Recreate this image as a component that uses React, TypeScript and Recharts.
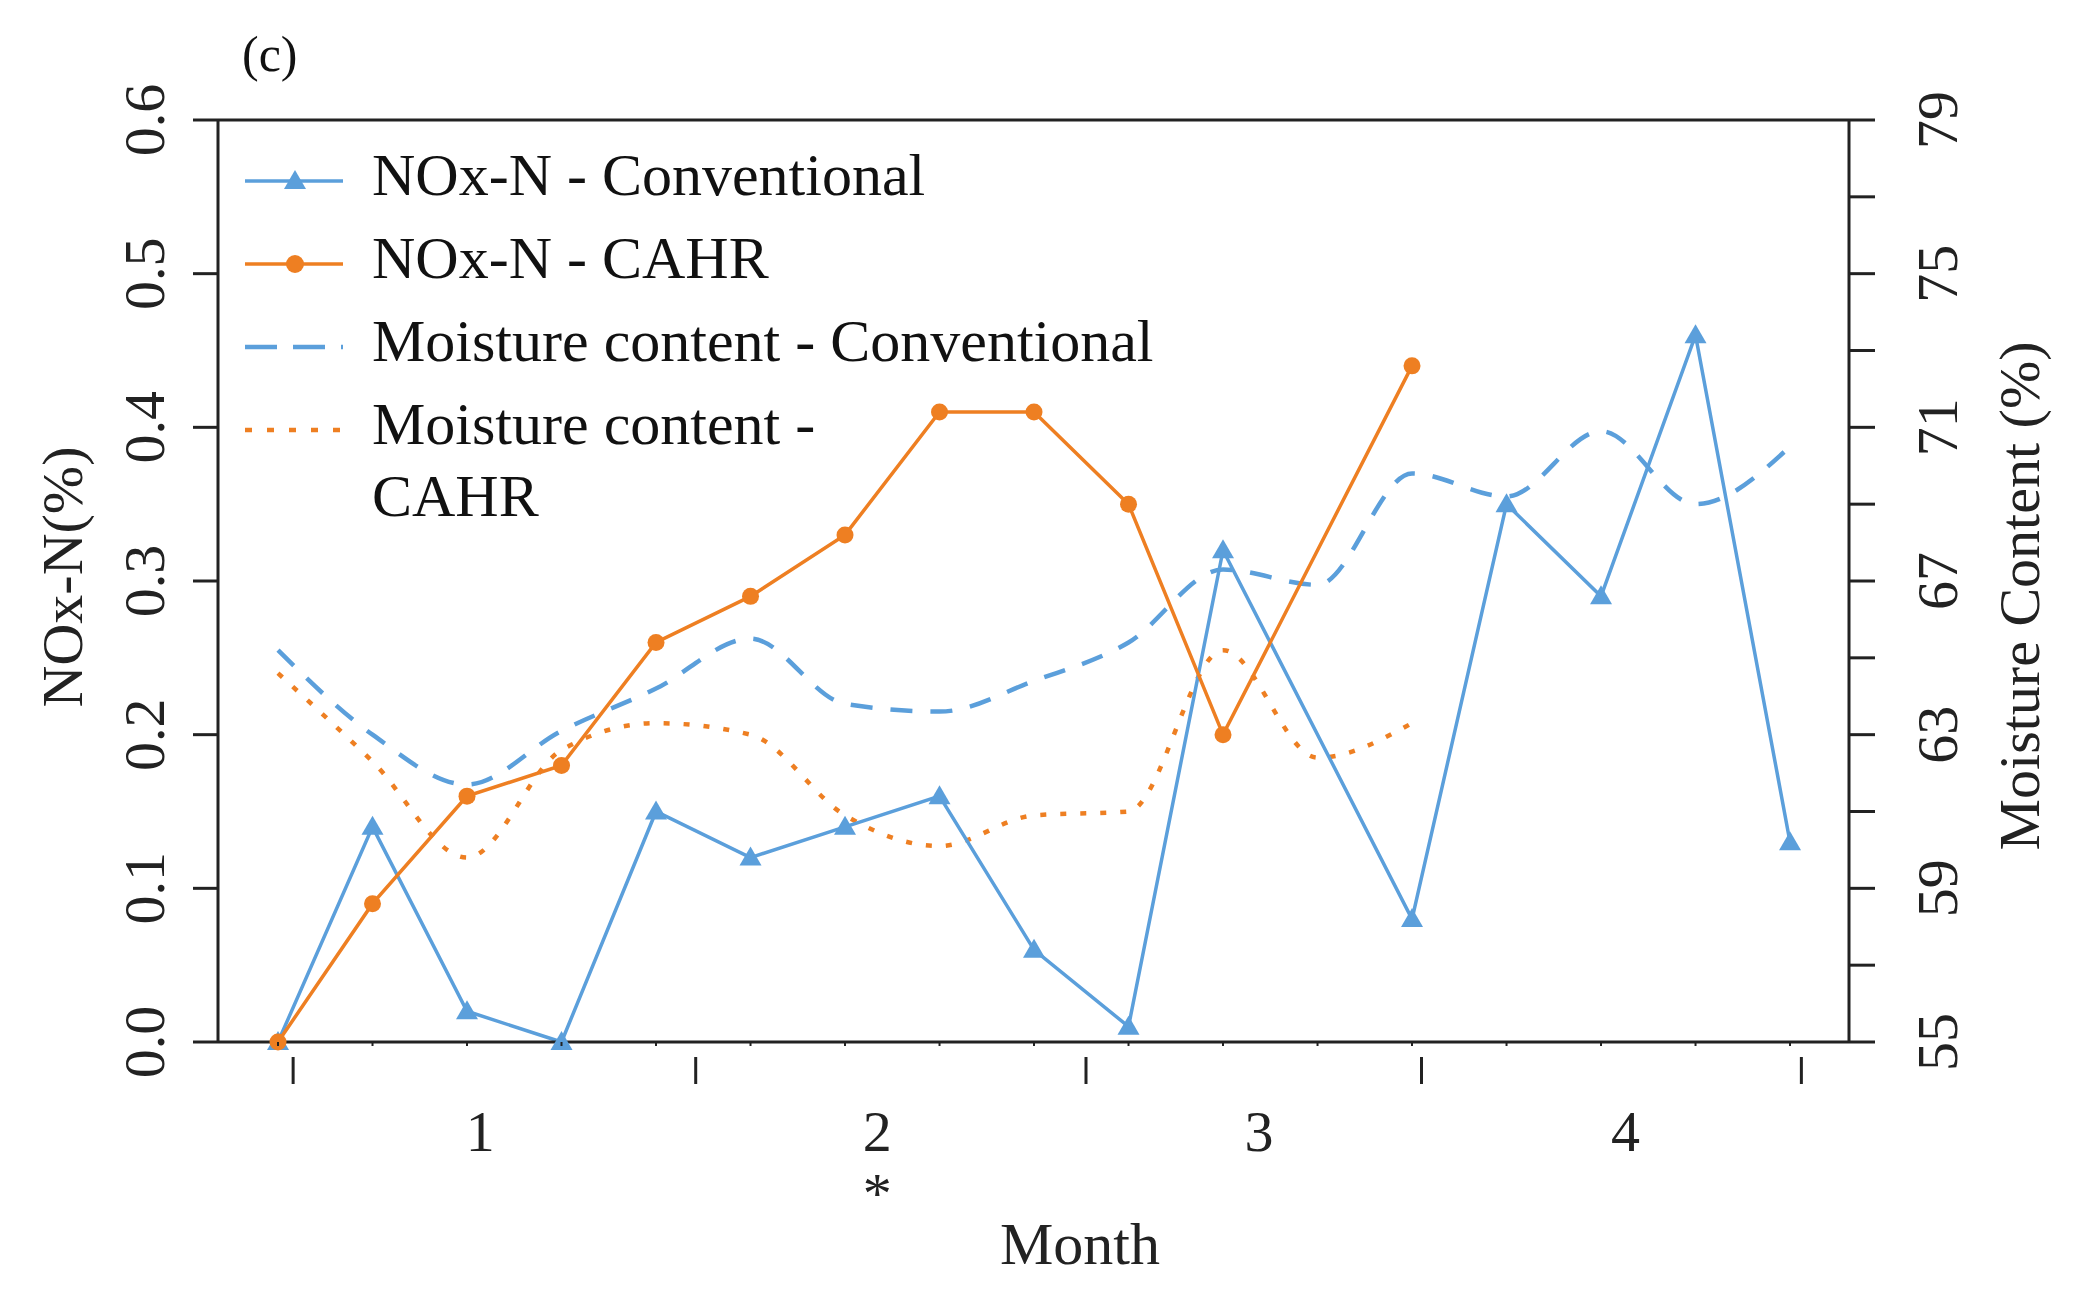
import React from 'react';
import { LineChart, Line, XAxis, YAxis, Legend, ReferenceLine } from 'recharts';

// sampling points along the composting period (index), 4 months
const samplePoints = [0, 1, 2, 3, 4, 5, 6, 7, 8, 9, 10, 11, 12, 13, 14, 15, 16];

const noxConventional = [0.0, 0.14, 0.02, 0.0, 0.15, 0.12, 0.14, 0.16, 0.06, 0.01, 0.32, null, 0.08, 0.35, 0.29, 0.46, 0.13];
const noxCahr = [0.0, 0.09, 0.16, 0.18, 0.26, 0.29, 0.33, 0.41, 0.41, 0.35, 0.2, null, 0.44];
const moistureConventional = [65.2, 63.0, 61.7, 63.1, 64.2, 65.5, 63.8, 63.6, 64.4, 65.4, 67.3, 66.9, 69.8, 69.2, 70.9, 69.0, 70.5];
const moistureCahr = [64.6, 62.3, 59.8, 62.6, 63.3, 63.0, 60.9, 60.1, 60.9, 61.0, 65.2, 62.4, 63.3];

const noxTicks = [0, 0.1, 0.2, 0.3, 0.4, 0.5, 0.6];
const moistureTicks = [55, 57, 59, 61, 63, 65, 67, 69, 71, 73, 75, 77, 79];
const moistureLabelStep = 4;

const monthLabels = ['1', '2', '3', '4'];
const monthNotes = ['', '*', '', ''];
const monthCenters = [2.14, 6.34, 10.38, 14.26];
const monthBoundaries = [0.16, 4.42, 8.55, 12.1, 16.12];
const xDomain = [-0.635, 16.624];

const BLUE = '#5b9fdb';
const ORANGE = '#ee7f22';
const INK = '#222';
const FONT = '"Liberation Serif", "DejaVu Serif", serif';

const data = samplePoints.map((idx, i) => ({
  idx,
  noxConv: noxConventional[i] ?? null,
  noxCahr: noxCahr[i] ?? null,
  moistConv: moistureConventional[i] ?? null,
  moistCahr: moistureCahr[i] ?? null,
}));

const xTicks = [...samplePoints, ...monthBoundaries, ...monthCenters];

const legendRows = [
  { lines: ['NOx-N - Conventional'], color: BLUE, dash: undefined, marker: 'triangle' },
  { lines: ['NOx-N - CAHR'], color: ORANGE, dash: undefined, marker: 'circle' },
  { lines: ['Moisture content - Conventional'], color: BLUE, dash: '32 16', marker: null },
  { lines: ['Moisture content -', 'CAHR'], color: ORANGE, dash: '7 15', marker: null },
];

function Triangle(props: any) {
  const { cx, cy, index, fill } = props;
  if (cx == null || cy == null) return <g key={`t-${index}`} />;
  return (
    <path
      key={`t-${index}`}
      d={`M${cx},${cy - 11} L${cx + 11},${cy + 8} L${cx - 11},${cy + 8} Z`}
      fill={fill}
    />
  );
}

function Dot(props: any) {
  const { cx, cy, index, fill } = props;
  if (cx == null || cy == null) return <g key={`c-${index}`} />;
  return <circle key={`c-${index}`} cx={cx} cy={cy} r={8.5} fill={fill} />;
}

function NoxTick({ x, y, payload }: any) {
  const bx = x - 29;
  return (
    <text x={bx} y={y} transform={`rotate(-90, ${bx}, ${y})`} textAnchor="middle"
      fontFamily={FONT} fontSize={58} fill={INK}>
      {Number(payload.value).toFixed(1)}
    </text>
  );
}

function MoistureTick({ x, y, payload }: any) {
  const v = payload.value;
  if ((v - moistureTicks[0]) % moistureLabelStep !== 0) return <g />;
  const bx = x + 82;
  return (
    <text x={bx} y={y} transform={`rotate(-90, ${bx}, ${y})`} textAnchor="middle"
      fontFamily={FONT} fontSize={58} fill={INK}>
      {v}
    </text>
  );
}

function MonthTick({ x, y, payload }: any) {
  const v = payload.value;
  const m = monthCenters.indexOf(v);
  if (m >= 0) {
    return (
      <g>
        <text x={x} y={y + 109} textAnchor="middle" fontFamily={FONT} fontSize={58} fill={INK}>
          {monthLabels[m]}
        </text>
        {monthNotes[m] && (
          <text x={x} y={y + 171} textAnchor="middle" fontFamily={FONT} fontSize={58} fill={INK}>
            {monthNotes[m]}
          </text>
        )}
      </g>
    );
  }
  if (monthBoundaries.includes(v)) {
    return <line x1={x} x2={x} y1={y + 15} y2={y + 42} stroke={INK} strokeWidth={3} />;
  }
  return <line x1={x} x2={x} y1={y} y2={y + 4} stroke={INK} strokeWidth={2} />;
}

function LegendBox() {
  return (
    <div style={{ position: 'relative', fontFamily: FONT, fontSize: 60, color: '#111' }}>
      {legendRows.map((row, i) => {
        const top = 139 + i * 83;
        return (
          <div key={i}>
            <svg width={100} height={40} style={{ position: 'absolute', left: 245, top: top + 22 }}>
              <line x1={0} x2={98} y1={20} y2={20} stroke={row.color}
                strokeWidth={row.dash ? 4.5 : 3.5} strokeDasharray={row.dash} />
              {row.marker === 'triangle' && <path d="M50,9 L61,28 L39,28 Z" fill={row.color} />}
              {row.marker === 'circle' && <circle cx={50} cy={20} r={9} fill={row.color} />}
            </svg>
            <div style={{ position: 'absolute', left: 372, top, lineHeight: '72px', whiteSpace: 'nowrap' }}>
              {row.lines.map((t) => <div key={t}>{t}</div>)}
            </div>
          </div>
        );
      })}
    </div>
  );
}

export default function App() {
  return (
    <div style={{ position: 'relative', width: 2100, height: 1299, background: '#fff' }}>
      <style>{'body{margin:0;background:#fff}'}</style>
      <div style={{ position: 'absolute', left: 242, top: 24, fontFamily: FONT, fontSize: 50, lineHeight: '60px', color: '#111' }}>
        (c)
      </div>
      <LineChart width={2100} height={1299} data={data} margin={{ top: 120, right: 0, bottom: 0, left: 0 }}>
        <XAxis
          dataKey="idx"
          type="number"
          domain={xDomain}
          allowDataOverflow
          ticks={xTicks}
          interval={0}
          height={257}
          tickLine={false}
          tickSize={0}
          tickMargin={0}
          axisLine={{ stroke: INK, strokeWidth: 3 }}
          tick={<MonthTick />}
          label={{
            content: () => (
              <text x={1080} y={1264} textAnchor="middle" fontFamily={FONT} fontSize={60} fill={INK}>
                Month
              </text>
            ),
          }}
        />
        <YAxis
          yAxisId="nox"
          domain={[0, 0.6]}
          ticks={noxTicks}
          interval={0}
          width={218}
          tickSize={25}
          tickMargin={0}
          tickLine={{ stroke: INK, strokeWidth: 3 }}
          axisLine={{ stroke: INK, strokeWidth: 3 }}
          tick={<NoxTick />}
          label={{
            content: ({ viewBox }: any) => {
              const bx = 82;
              const cy = viewBox.y + viewBox.height / 2 - 4;
              return (
                <text x={bx} y={cy} transform={`rotate(-90, ${bx}, ${cy})`} textAnchor="middle"
                  fontFamily={FONT} fontSize={58} fill={INK}>
                  NOx-N(%)
                </text>
              );
            },
          }}
        />
        <YAxis
          yAxisId="moist"
          orientation="right"
          domain={[55, 79]}
          ticks={moistureTicks}
          interval={0}
          width={251}
          tickSize={26}
          tickMargin={0}
          tickLine={{ stroke: INK, strokeWidth: 3 }}
          axisLine={{ stroke: INK, strokeWidth: 3 }}
          tick={<MoistureTick />}
          label={{
            content: ({ viewBox }: any) => {
              const bx = viewBox.x + 190;
              const cy = viewBox.y + viewBox.height / 2 + 15;
              return (
                <text x={bx} y={cy} transform={`rotate(-90, ${bx}, ${cy})`} textAnchor="middle"
                  fontFamily={FONT} fontSize={58} fill={INK}>
                  Moisture Content (%)
                </text>
              );
            },
          }}
        />
        <ReferenceLine yAxisId="nox" y={0.6} stroke={INK} strokeWidth={3} />
        <Legend
          align="center"
          verticalAlign="middle"
          layout="horizontal"
          content={() => <LegendBox />}
          wrapperStyle={{ left: 0, top: 0, width: 1100, height: 560 }}
        />
        <Line
          yAxisId="moist"
          type="monotone"
          dataKey="moistConv"
          name="Moisture content - Conventional"
          stroke={BLUE}
          strokeWidth={4.5}
          strokeDasharray="22 18"
          dot={false}
          isAnimationActive={false}
        />
        <Line
          yAxisId="moist"
          type="monotone"
          dataKey="moistCahr"
          name="Moisture content - CAHR"
          stroke={ORANGE}
          strokeWidth={4.5}
          strokeDasharray="6 14"
          dot={false}
          isAnimationActive={false}
        />
        <Line
          yAxisId="nox"
          type="linear"
          dataKey="noxConv"
          name="NOx-N - Conventional"
          stroke={BLUE}
          strokeWidth={3.5}
          connectNulls
          dot={(p: any) => <Triangle {...p} fill={BLUE} />}
          isAnimationActive={false}
        />
        <Line
          yAxisId="nox"
          type="linear"
          dataKey="noxCahr"
          name="NOx-N - CAHR"
          stroke={ORANGE}
          strokeWidth={3.5}
          connectNulls
          dot={(p: any) => <Dot {...p} fill={ORANGE} />}
          isAnimationActive={false}
        />
      </LineChart>
    </div>
  );
}
